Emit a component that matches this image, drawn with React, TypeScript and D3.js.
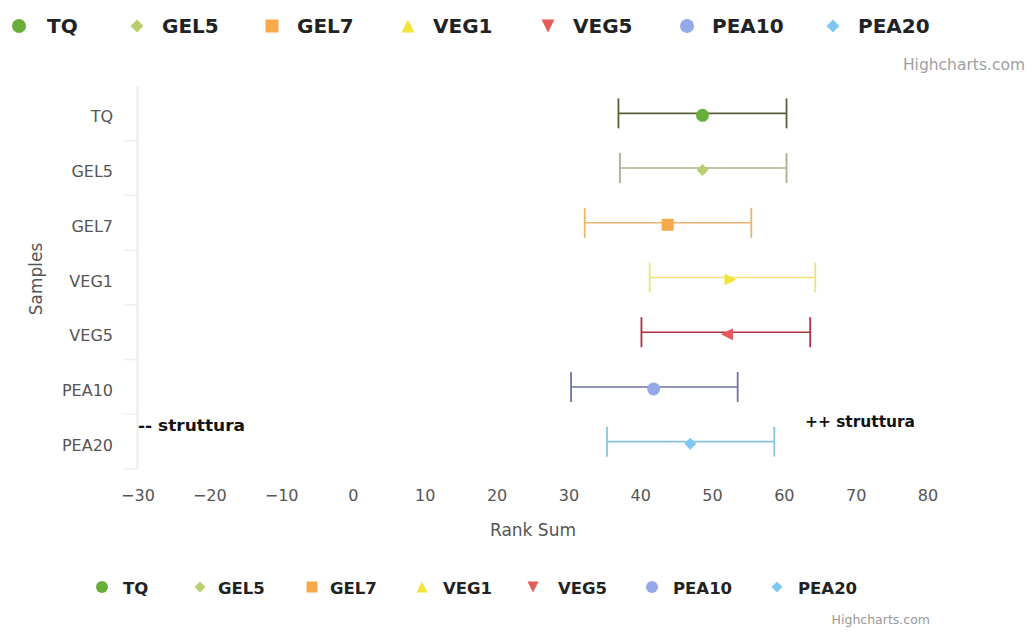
import React from "react";
import * as d3 from "d3";

const categories = ["TQ", "GEL5", "GEL7", "VEG1", "VEG5", "PEA10", "PEA20"];
const lowValues = [36.9, 37.1, 32.2, 41.25, 40.1, 30.3, 35.3];
const highValues = [60.3, 60.3, 55.4, 64.3, 63.6, 53.5, 58.6];
const meanValues = [48.6, 48.6, 43.75, 52.5, 52.0, 41.8, 46.9];
const xTicks = [-30, -20, -10, 0, 10, 20, 30, 40, 50, 60, 70, 80];
const markerColors = ["#6aae3a", "#b8cf70", "#f7a94c", "#f3e43c", "#e55a5a", "#93a9e8", "#7ec8f0"];
const barColors = ["#56613a", "#aab08a", "#e9b36e", "#efe27a", "#b0303f", "#6e74a2", "#86c4e4"];
const legendSymbols = ["circle", "diamond", "square", "triangle", "triangle-down", "circle", "diamond"];
const plotSymbols = ["circle", "diamond", "square", "triangle-right", "triangle-left", "circle", "diamond"];

const FONT = "'DejaVu Sans', sans-serif";

function Marker({ kind, x, y, size, color }: { kind: string; x: number; y: number; size: number; color: string }) {
  const s = size;
  if (kind === "circle") return <circle cx={x} cy={y} r={s} fill={color} />;
  if (kind === "square") return <rect x={x - s} y={y - s} width={2 * s} height={2 * s} fill={color} />;
  if (kind === "diamond")
    return <path d={`M${x},${y - s} L${x + s},${y} L${x},${y + s} L${x - s},${y} Z`} fill={color} />;
  if (kind === "triangle")
    return <path d={`M${x},${y - s} L${x + s},${y + s} L${x - s},${y + s} Z`} fill={color} />;
  if (kind === "triangle-right")
    return <path d={`M${x + s},${y} L${x - s},${y - s} L${x - s},${y + s} Z`} fill={color} />;
  if (kind === "triangle-left")
    return <path d={`M${x - s},${y} L${x + s},${y - s} L${x + s},${y + s} Z`} fill={color} />;
  return <path d={`M${x - s},${y - s} L${x + s},${y - s} L${x},${y + s} Z`} fill={color} />;
}

export default function App() {
  const W = 1032, H = 632;
  const x = d3.scaleLinear().domain([-30, 80]).range([138, 928]);
  const y = d3.scaleBand().domain(categories).range([86, 469]);
  const band = y.bandwidth();

  const topLegendX = [19, 137, 272, 408, 548, 687, 833];
  const topTextX = [47, 162, 297, 433, 573, 712, 858];
  const botLegendX = [102, 200, 312, 422, 533, 652, 777];
  const botTextX = [123, 218, 330, 443, 558, 673, 798];

  return (
    <svg width={W} height={H} style={{ position: "absolute", left: 0, top: 0, background: "#fff" }} fontFamily={FONT}>
      <rect width={W} height={H} fill="#fff" />
      {/* top legend */}
      {categories.map((c, i) => (
        <g key={"tl" + i}>
          <Marker kind={legendSymbols[i]} x={topLegendX[i]} y={26} size={legendSymbols[i] === "circle" ? 7 : 6.5} color={markerColors[i]} />
          <text x={topTextX[i]} y={33} fontSize={20} fontWeight="bold" fill="#222">{c}</text>
        </g>
      ))}
      <text x={1025} y={70} fontSize={15.5} fill="#a0a0a0" textAnchor="end">Highcharts.com</text>

      {/* y axis line and ticks */}
      <line x1={137.5} x2={137.5} y1={86} y2={469} stroke="#ececec" strokeWidth={2} />
      {categories.map((c, i) => (
        <line key={"yt" + i} x1={124} x2={137} y1={(y(c) as number) + band} y2={(y(c) as number) + band} stroke="#f0f0f0" strokeWidth={1.5} />
      ))}
      {categories.map((c) => (
        <text key={"yl" + c} x={113} y={(y(c) as number) + band / 2 + 9} fontSize={16} fill="#555" textAnchor="end">{c}</text>
      ))}
      {xTicks.map((t) => (
        <text key={"xt" + t} x={x(t)} y={501} fontSize={16} fill="#555" textAnchor="middle">{t < 0 ? "\u2212" + Math.abs(t) : t}</text>
      ))}
      <text x={533} y={536} fontSize={17} fill="#555" textAnchor="middle">Rank Sum</text>
      <text transform={`translate(42,${279}) rotate(-90)`} fontSize={17} fill="#555" textAnchor="middle">Samples</text>

      {/* error bars */}
      {categories.map((c, i) => {
        const cy = (y(c) as number) + band / 2;
        const x0 = x(lowValues[i]), x1 = x(highValues[i]);
        return (
          <g key={"eb" + c}>
            <line x1={x0} x2={x1} y1={cy} y2={cy} stroke={barColors[i]} strokeWidth={1.6} />
            <line x1={x0} x2={x0} y1={cy - 15} y2={cy + 15} stroke={barColors[i]} strokeWidth={1.8} />
            <line x1={x1} x2={x1} y1={cy - 15} y2={cy + 15} stroke={barColors[i]} strokeWidth={1.8} />
          </g>
        );
      })}
      {categories.map((c, i) => {
        const cy = (y(c) as number) + band / 2 + 2;
        return <Marker key={"mk" + c} kind={plotSymbols[i]} x={x(meanValues[i])} y={cy} size={plotSymbols[i] === "circle" ? 6.5 : 6} color={markerColors[i]} />;
      })}

      <text x={138} y={431} fontSize={16} fontWeight="bold" fill="#111" textLength={107} lengthAdjust="spacingAndGlyphs">-- struttura</text>
      <text x={805} y={427} fontSize={16} fontWeight="bold" fill="#111" textLength={110} lengthAdjust="spacingAndGlyphs">++ struttura</text>

      {/* bottom legend */}
      {categories.map((c, i) => (
        <g key={"bl" + i}>
          <Marker kind={legendSymbols[i]} x={botLegendX[i]} y={587} size={legendSymbols[i] === "circle" ? 6 : 5.5} color={markerColors[i]} />
          <text x={botTextX[i]} y={594} fontSize={16.5} fontWeight="bold" fill="#222">{c}</text>
        </g>
      ))}
      <text x={930} y={624} fontSize={12.5} fill="#999" textAnchor="end">Highcharts.com</text>
    </svg>
  );
}
